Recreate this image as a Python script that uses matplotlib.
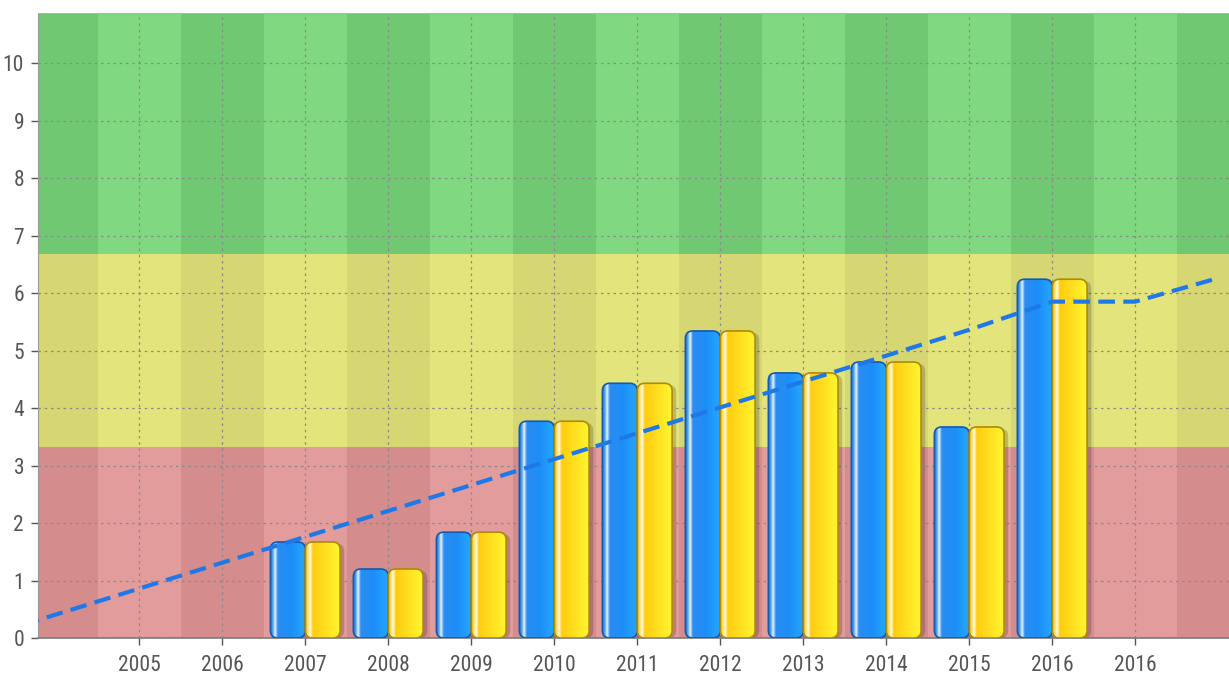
import matplotlib.pyplot as plt
import numpy as np
from matplotlib.colors import LinearSegmentedColormap
from matplotlib.patches import FancyBboxPatch

# Данные
labels = ['', '2005', '2006', '2007', '2008', '2009', '2010', '2011',
          '2012', '2013', '2014', '2015', '2016', '2016', '']
blue_vals = [0, 0, 0, 1.67, 1.2, 1.84, 3.77, 4.43, 5.34, 4.61, 4.8, 3.67, 6.24, 0, 0]
yellow_vals = [0, 0, 0, 1.67, 1.2, 1.84, 3.77, 4.43, 5.34, 4.61, 4.8, 3.67, 6.24, 0, 0]
trend_x = list(range(-1, 15))
trend_vals = [-0.04, 0.41, 0.86, 1.31, 1.76, 2.21, 2.66, 3.11, 3.56, 4.01,
              4.46, 4.91, 5.36, 5.85, 5.85, 6.26]
zones = [0, 3.33, 6.67, 11]

plt.rcParams['font.family'] = ['Roboto Condensed', 'DejaVu Sans']

fig = plt.figure(figsize=(12.29, 6.77), dpi=100)
ax = fig.add_axes([38 / 1229, 39 / 677, 1 - 38 / 1229, 625 / 677])

x0, x1 = -0.22, 14.13
y0, y1 = 0, 10.87

# Зоны с чередующимися полосами
zone_colors = [('#d48c8c', '#e29c9c'), ('#d6d672', '#e4e47c'), ('#70c872', '#80d880')]
for z in range(3):
    for i in range(len(labels) + 1):
        c = zone_colors[z][i % 2]
        ax.fill_between([i - 0.5, i + 0.5], zones[z], zones[z + 1], color=c, lw=0, zorder=0)

ax.grid(True, color='#8a8a8a', linestyle=(0, (2, 3)), linewidth=0.9, zorder=1)

blue_cmap = LinearSegmentedColormap.from_list('b', [
    (0, '#1b74d8'), (0.08, '#5aa8f0'), (0.14, '#e8f4ff'), (0.22, '#2b8cf0'),
    (0.6, '#1c8ef8'), (1, '#25a6ff')])
yellow_cmap = LinearSegmentedColormap.from_list('y', [
    (0, '#f0c000'), (0.08, '#ffe070'), (0.14, '#fffbe0'), (0.22, '#ffcc10'),
    (0.6, '#ffe020'), (1, '#fff530')])
grad = np.linspace(0, 1, 64).reshape(1, -1)

w = 0.42
xs = np.arange(len(labels))
for vals, offs, cmap, edge in [(blue_vals, -w / 2, blue_cmap, '#1458b0'),
                               (yellow_vals, w / 2, yellow_cmap, '#b08a00')]:
    bars = ax.bar(xs + offs, vals, w, color='none', edgecolor='none', zorder=3)
    for b in bars:
        h = b.get_height()
        if h <= 0:
            continue
        bx = b.get_x()
        # тень
        sh = FancyBboxPatch((bx + 0.05, 0), w, h - 0.03,
                            boxstyle='round,pad=0,rounding_size=0.09',
                            mutation_aspect=1.45, fc='#000000', alpha=0.18,
                            ec='none', zorder=2.5)
        ax.add_patch(sh)
        p = FancyBboxPatch((bx, 0), w, h,
                           boxstyle='round,pad=0,rounding_size=0.09',
                           mutation_aspect=1.45, fc='none', ec=edge,
                           lw=1.2, zorder=4)
        ax.add_patch(p)
        im = ax.imshow(grad, cmap=cmap, aspect='auto',
                       extent=[bx, bx + w, 0, h], zorder=3)
        im.set_clip_path(p)

ax.plot(trend_x, trend_vals, color='#1f78e8', lw=3, linestyle=(0, (4, 2)), zorder=5)

ax.set_xlim(x0, x1)
ax.set_ylim(y0, y1)
ax.set_xticks(xs[1:14])
ax.set_xticklabels(labels[1:14])
ax.set_yticks(range(0, 11))

for s in ['top', 'right']:
    ax.spines[s].set_visible(False)
ax.spines['left'].set_color('#9a9a9a')
ax.spines['bottom'].set_color('#7a7a7a')
ax.spines['bottom'].set_linewidth(1.2)
ax.axhline(y1, color='#b0b0b0', lw=1.5, zorder=6)
ax.tick_params(colors='#555555', labelsize=15.5, length=5, width=1)
ax.tick_params(axis='x', pad=7)
ax.tick_params(axis='y', pad=5)

fig.savefig('out.png', dpi=100)
